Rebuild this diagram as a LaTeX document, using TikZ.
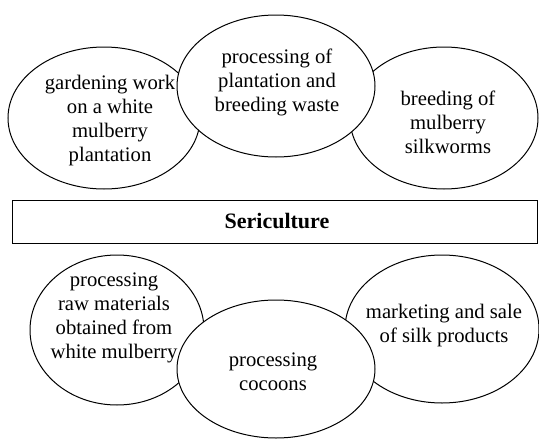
\documentclass[tikz,border=0pt]{standalone}
\usepackage{fontspec}
\setmainfont{Liberation Serif}
\usetikzlibrary{shapes.geometric}

\tikzset{every picture/.style={line width=0.75pt}}
\tikzset{oval/.style 2 args={draw,ellipse,fill=white,inner sep=0pt,
    minimum width=#1*0.75pt,minimum height=#2*0.75pt},
  txt/.style={align=center,inner sep=0.75pt,font=\fontsize{15.5}{18}\selectfont}}

\begin{document}
\begin{tikzpicture}[x=0.75pt,y=0.75pt,yscale=-1,xscale=1]
\useasboundingbox (0,0) rectangle (539,439);

% top row
\node [oval={192}{142}] (garden) at (104,118) {};
\node [oval={188}{142}] (silk) at (444,118) {};
\node [oval={198}{142}] (waste) at (276,86) {};

% Text Node
\node [txt] (tgarden) at (110,121) {gardening work\\on a white\\mulberry\\plantation};
% Text Node
\node [txt] (twaste) at (277,82) {processing of\\plantation and\\breeding waste};
% Text Node
\node [txt] (tsilk) at (448,122) {breeding of\\mulberry\\silkworms};

% title bar
\draw (12,200) rectangle (537,243);
\node [txt,font=\fontsize{16.5}{18}\selectfont\bfseries] (title) at (277,221) {Sericulture};

% bottom row
\node [oval={174}{150}] (raw) at (117,330) {};
\node [oval={194}{148}] (sale) at (442,329) {};
\node [oval={198}{138}] (cocoon) at (276,369) {};

% Text Node
\node [txt] (traw) at (114,318) {processing\\raw materials\\obtained from\\white mulberry};
% Text Node
\node [txt] (tcocoon) at (273,372) {processing\\cocoons};
% Text Node
\node [txt] (tsale) at (444,326) {marketing and sale\\of silk products};

\end{tikzpicture}
\end{document}
